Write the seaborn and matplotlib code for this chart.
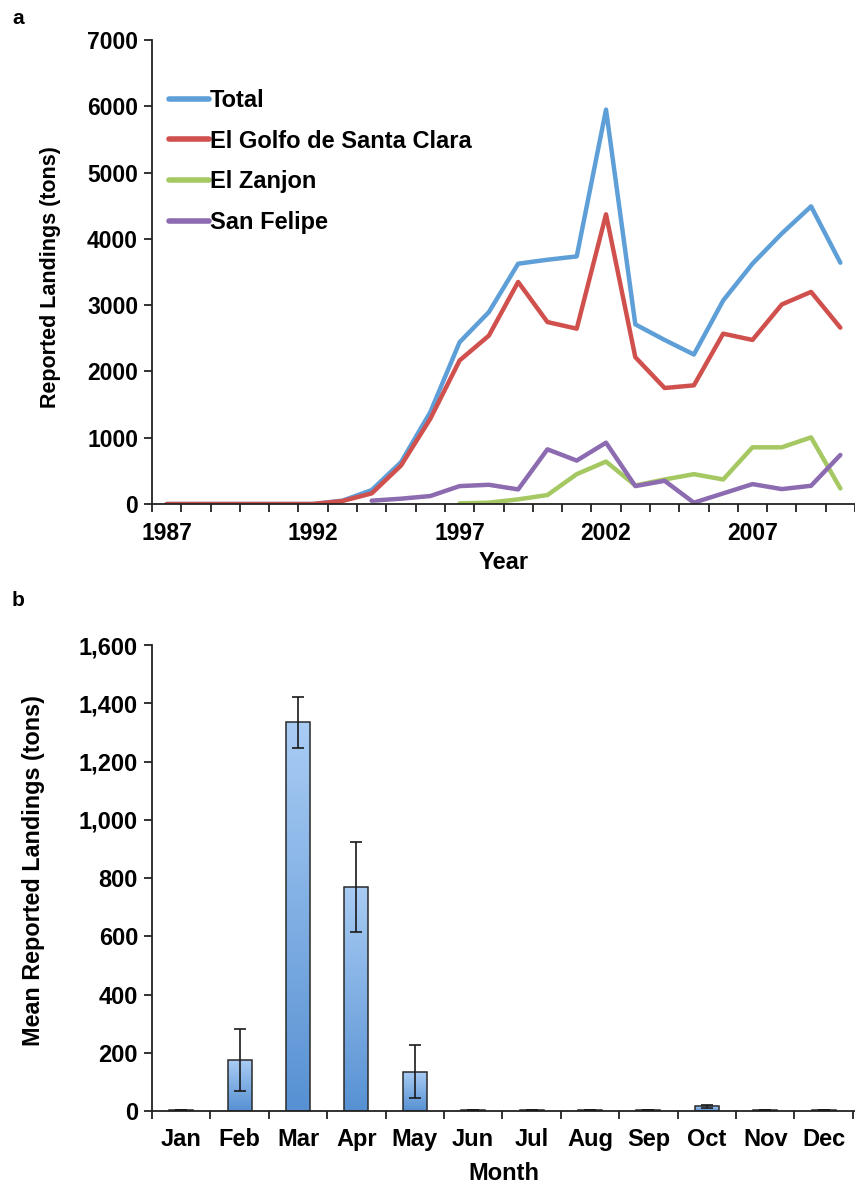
import numpy as np
import pandas as pd
import matplotlib
matplotlib.use("Agg")
import matplotlib.pyplot as plt
import seaborn as sns
from matplotlib.colors import LinearSegmentedColormap
from matplotlib.ticker import FuncFormatter, MultipleLocator

# ---- panel a: annual reported landings (tons) ----
years = list(range(1987, 2011))
total = [0, 0, 0, 0, 0, 0, 50, 210, 630, 1385, 2440, 2895, 3625, 3685, 3735, 5950,
         2710, 2475, 2255, 3070, 3625, 4080, 4490, 3640]
golfo = [0, 0, 0, 0, 0, 0, 45, 160, 580, 1285, 2165, 2540, 3350, 2745, 2645, 4370,
         2215, 1750, 1790, 2570, 2475, 3010, 3200, 2660]
zanjon_years = list(range(1997, 2011))
zanjon = [10, 20, 70, 135, 450, 640, 280, 370, 450, 370, 855, 855, 1005, 235]
felipe_years = list(range(1994, 2011))
felipe = [50, 80, 120, 270, 290, 220, 825, 655, 925, 270, 350, 20, 160, 300, 225, 275, 740]

# ---- panel b: mean monthly landings (tons) with error bars ----
months = ["Jan", "Feb", "Mar", "Apr", "May", "Jun", "Jul", "Aug", "Sep", "Oct", "Nov", "Dec"]
month_mean = [3, 175, 1334, 770, 135, 3, 3, 3, 3, 16, 3, 3]
month_err = [1, 105, 88, 155, 90, 1, 1, 1, 1, 6, 1, 1]

series = ["Total", "El Golfo de Santa Clara", "El Zanjon", "San Felipe"]
colors = {"Total": "#5E9FD8", "El Golfo de Santa Clara": "#D0504D",
          "El Zanjon": "#A5C862", "San Felipe": "#8C6BB1"}

frames = [pd.DataFrame({"year": years, "tons": total, "site": "Total"}),
          pd.DataFrame({"year": years, "tons": golfo, "site": "El Golfo de Santa Clara"}),
          pd.DataFrame({"year": zanjon_years, "tons": zanjon, "site": "El Zanjon"}),
          pd.DataFrame({"year": felipe_years, "tons": felipe, "site": "San Felipe"})]
df = pd.concat(frames, ignore_index=True)
mdf = pd.DataFrame({"month": months, "mean": month_mean, "err": month_err})

sns.set_theme(style="ticks")
plt.rcParams["font.family"] = ["Liberation Sans", "DejaVu Sans"]
plt.rcParams["font.weight"] = "bold"
for k in ["text.color", "axes.labelcolor", "xtick.color", "ytick.color"]:
    plt.rcParams[k] = "black"

fig = plt.figure(figsize=(8.55, 11.92), dpi=100)
W, H = 855, 1192
ax1 = fig.add_axes([152 / W, 1 - 504 / H, 1 - 152 / W, (504 - 40) / H])
ax2 = fig.add_axes([152 / W, 1 - 1111 / H, 1 - 152 / W, (1111 - 645) / H])

# ---- chart a ----
sns.lineplot(data=df, x="year", y="tons", hue="site", hue_order=series, palette=colors,
             lw=3.2, ax=ax1, legend=True)
ax1.set_xlim(1986.5, 1986.5 + (W - 152) / 29.6)
ax1.set_ylim(0, 7000)
ax1.yaxis.set_major_locator(MultipleLocator(1000))
ax1.set_xticks(range(1987, 2011, 5))
ax1.set_xticks(np.arange(1986.5, 2011, 1), minor=True)
ax1.tick_params(axis="x", which="major", length=0, pad=12.8, labelsize=16.5)
ax1.tick_params(axis="x", which="minor", length=6, width=1.3, direction="out", color="#222222")
ax1.tick_params(axis="y", length=6, width=1.3, direction="out", labelsize=16.5, pad=4, color="#222222")
ax1.set_xlabel("Year", fontsize=17, fontweight="bold", labelpad=4.2)
ax1.set_ylabel("Reported Landings (tons)", fontsize=15.5, fontweight="bold")
ax1.yaxis.set_label_coords(-0.13, 0.49)
for s in ["top", "right"]:
    ax1.spines[s].set_visible(False)
for s in ["left", "bottom"]:
    ax1.spines[s].set_linewidth(1.3)
    ax1.spines[s].set_color("#222222")
leg = ax1.legend(loc="upper left", bbox_to_anchor=(0.0, 0.93), frameon=False, fontsize=17,
                 handlelength=1.7, handletextpad=0.05, labelspacing=0.75, borderaxespad=0.3)
for t in leg.get_texts():
    t.set_fontweight("bold")
for l in leg.get_lines():
    l.set_linewidth(4)

# ---- chart b ----
sns.barplot(data=mdf, x="month", y="mean", order=months, color="#7DB0E6", width=0.41,
            edgecolor="#2A2A2A", linewidth=1.1, ax=ax2, zorder=2)
grad = LinearSegmentedColormap.from_list("bar", ["#5791D3", "#A9CCF4"])
gimg = np.linspace(0, 1, 256).reshape(-1, 1)
for p in ax2.patches:
    x0, y0 = p.get_x(), p.get_y()
    w, h = p.get_width(), p.get_height()
    im = ax2.imshow(gimg, cmap=grad, origin="lower", aspect="auto",
                    extent=(x0, x0 + w, y0, y0 + h), zorder=1.5)
    im.set_clip_path(p)
    p.set_facecolor("none")
ax2.errorbar(range(len(months)), month_mean, yerr=month_err, fmt="none",
             ecolor="#1A1A1A", elinewidth=1.2, capsize=4, capthick=1.2, zorder=3)
ax2.set_xlim(-0.5, -0.5 + (W - 152) / 58.4)
ax2.set_ylim(0, 1600)
ax2.yaxis.set_major_locator(MultipleLocator(200))
ax2.yaxis.set_major_formatter(FuncFormatter(lambda v, p: f"{int(v):,}"))
ax2.set_xticks(range(12))
ax2.set_xticks(np.arange(-0.5, 12, 1), minor=True)
ax2.tick_params(axis="x", which="major", length=0, pad=12.5, labelsize=17)
ax2.tick_params(axis="x", which="minor", length=6, width=1.3, direction="out", color="#222222")
ax2.tick_params(axis="y", length=6, width=1.3, direction="out", labelsize=17, pad=4, color="#222222")
ax2.set_xlabel("Month", fontsize=17, fontweight="bold", labelpad=7.7)
ax2.set_ylabel("Mean Reported Landings (tons)", fontsize=16.8, fontweight="bold")
ax2.yaxis.set_label_coords(-0.152, 0.515)
for s in ["top", "right"]:
    ax2.spines[s].set_visible(False)
for s in ["left", "bottom"]:
    ax2.spines[s].set_linewidth(1.3)
    ax2.spines[s].set_color("#222222")

fig.text(12 / W, 1 - 18 / H, "a", fontsize=15, fontweight="bold", va="center")
fig.text(12 / W, 1 - 600 / H, "b", fontsize=15, fontweight="bold", va="center")

fig.savefig("out.png", dpi=100)
